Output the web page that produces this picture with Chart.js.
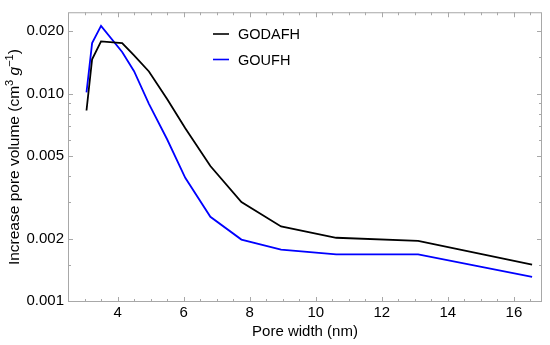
<!DOCTYPE html>
<html>
<head>
<meta charset="utf-8">
<script src="https://cdn.jsdelivr.net/npm/chart.js@4.4.0/dist/chart.umd.min.js"></script>
<style>
  html, body { margin: 0; padding: 0; background: #fff; }
  #wrap { width: 550px; height: 345px; }
</style>
</head>
<body>
<div id="wrap"><canvas id="poreChart"></canvas></div>
<script>
// pore width (nm)
const poreWidth = [3.06, 3.23, 3.50, 4.14, 4.50, 4.95, 5.50, 6.05, 6.81, 7.75, 8.95, 10.62, 13.10, 16.55];
// increase pore volume (cm3/g)
const godafh = [0.0083, 0.01466, 0.01787, 0.01754, 0.0153, 0.0128, 0.00943, 0.00682, 0.00448, 0.0030, 0.00229, 0.00202, 0.00195, 0.00150];
const goufh  = [0.01014, 0.01754, 0.02122, 0.01589, 0.01284, 0.00894, 0.00603, 0.00393, 0.00255, 0.00198, 0.00177, 0.00168, 0.00168, 0.00131];

const seriesNames = ['GODAFH', 'GOUFH'];
const xMajorTicks = [4, 6, 8, 10, 12, 14, 16];
const xMinorTicks = [3, 3.5, 4.5, 5, 5.5, 6.5, 7, 7.5, 8.5, 9, 9.5, 10.5, 11, 11.5, 12.5, 13, 13.5, 14.5, 15, 15.5, 16.5];
const yMajorTicks = [0.001, 0.002, 0.005, 0.01, 0.02];
const yTickLabels = ['0.001', '0.002', '0.005', '0.010', '0.020'];
const yMinorTicks = [0.0015, 0.003, 0.004, 0.006, 0.007, 0.008, 0.009, 0.015];

const FONT = '"Liberation Sans", Arial, Helvetica, sans-serif';
const FRAME = '#a8a8a8';

function toPoints(xs, ys) {
  return xs.map(function (x, i) { return { x: x, y: ys[i] }; });
}

// frame + inward ticks on all four sides (Mathematica style)
const frameTicks = {
  id: 'frameTicks',
  afterDraw(chart) {
    const ctx = chart.ctx;
    const a = chart.chartArea;
    const xs = chart.scales.x, ys = chart.scales.y;
    ctx.save();
    ctx.strokeStyle = FRAME;
    ctx.lineWidth = 1;
    ctx.strokeRect(a.left + 0.5, a.top + 0.5, a.right - a.left - 1, a.bottom - a.top - 1);
    ctx.beginPath();
    function xt(v, len) {
      const p = Math.round(xs.getPixelForValue(v)) + 0.5;
      ctx.moveTo(p, a.bottom); ctx.lineTo(p, a.bottom - len);
      ctx.moveTo(p, a.top); ctx.lineTo(p, a.top + len);
    }
    function yt(v, len) {
      const p = Math.round(ys.getPixelForValue(v)) + 0.5;
      ctx.moveTo(a.left, p); ctx.lineTo(a.left + len, p);
      ctx.moveTo(a.right, p); ctx.lineTo(a.right - len, p);
    }
    xMajorTicks.forEach(function (v) { xt(v, 5); });
    xMinorTicks.forEach(function (v) { xt(v, 3); });
    yMajorTicks.forEach(function (v) { yt(v, 5); });
    yMinorTicks.forEach(function (v) { yt(v, 3); });
    ctx.stroke();

    // legend inside plot
    ctx.font = '14.5px ' + FONT;
    ctx.textBaseline = 'middle';
    ctx.textAlign = 'left';
    chart.data.datasets.forEach(function (ds, i) {
      const y = 34 + i * 25.5;
      ctx.strokeStyle = ds.borderColor;
      ctx.lineWidth = 1.6;
      ctx.beginPath();
      ctx.moveTo(213, y); ctx.lineTo(229, y);
      ctx.stroke();
      ctx.fillStyle = '#000';
      ctx.fillText(ds.label, 238, y + 1);
    });

    // y axis title with superscripts and italic g
    const parts = [
      { t: 'Increase pore volume (cm', f: '15.5px ' + FONT, dy: 0 },
      { t: '3', f: '11px ' + FONT, dy: -5 },
      { t: ' ', f: '15.5px ' + FONT, dy: 0 },
      { t: 'g', f: 'italic 15.5px ' + FONT, dy: 0 },
      { t: '\u22121', f: '11px ' + FONT, dy: -5 },
      { t: ')', f: '15.5px ' + FONT, dy: 0 }
    ];
    let total = 0;
    parts.forEach(function (p) { ctx.font = p.f; p.w = ctx.measureText(p.t).width; total += p.w; });
    ctx.translate(14, (a.top + a.bottom) / 2);
    ctx.rotate(-Math.PI / 2);
    ctx.fillStyle = '#000';
    let cx = -total / 2;
    parts.forEach(function (p) {
      ctx.font = p.f;
      ctx.fillText(p.t, cx, p.dy + 1);
      cx += p.w;
    });
    ctx.restore();
  }
};

const ctx = document.getElementById('poreChart').getContext('2d');
const myChart = new Chart(ctx, {
  type: 'line',
  data: {
    datasets: [{
      label: seriesNames[0],
      data: toPoints(poreWidth, godafh),
      borderColor: '#000000',
      borderWidth: 1.8,
      pointRadius: 0,
      fill: false,
      tension: 0
    }, {
      label: seriesNames[1],
      data: toPoints(poreWidth, goufh),
      borderColor: '#0000ff',
      borderWidth: 1.8,
      pointRadius: 0,
      fill: false,
      tension: 0
    }]
  },
  options: {
    responsive: true,
    maintainAspectRatio: false,
    animation: false,
    layout: { padding: { top: 10, right: 8, left: 0, bottom: 0 } },
    plugins: {
      legend: { display: false },
      tooltip: { enabled: false }
    },
    scales: {
      x: {
        type: 'linear',
        min: 2.5,
        max: 16.85,
        grid: { display: false, drawTicks: false },
        border: { display: false },
        afterBuildTicks: function (scale) {
          scale.ticks = xMajorTicks.map(function (v) { return { value: v }; });
        },
        afterFit: function (scale) { scale.height = 43; },
        ticks: {
          autoSkip: false,
          maxRotation: 0,
          padding: 3,
          color: '#000',
          font: { family: FONT, size: 15, lineHeight: 1.1 },
          callback: function (v) { return String(v); }
        },
        title: {
          display: true,
          text: 'Pore width (nm)',
          color: '#000',
          font: { family: FONT, size: 15, lineHeight: 1.1 },
          padding: { top: 0, bottom: 4.5 }
        }
      },
      y: {
        type: 'logarithmic',
        min: 0.00099,
        max: 0.0247,
        grid: { display: false, drawTicks: false },
        border: { display: false },
        afterBuildTicks: function (scale) {
          scale.ticks = yMajorTicks.map(function (v) { return { value: v }; });
        },
        afterFit: function (scale) { scale.width = 68; },
        ticks: {
          autoSkip: false,
          padding: 4,
          color: '#000',
          font: { family: FONT, size: 15, lineHeight: 1.1 },
          callback: function (v) {
            const i = yMajorTicks.indexOf(v);
            return i >= 0 ? yTickLabels[i] : '';
          }
        }
      }
    }
  },
  plugins: [frameTicks]
});
</script>
</body>
</html>
